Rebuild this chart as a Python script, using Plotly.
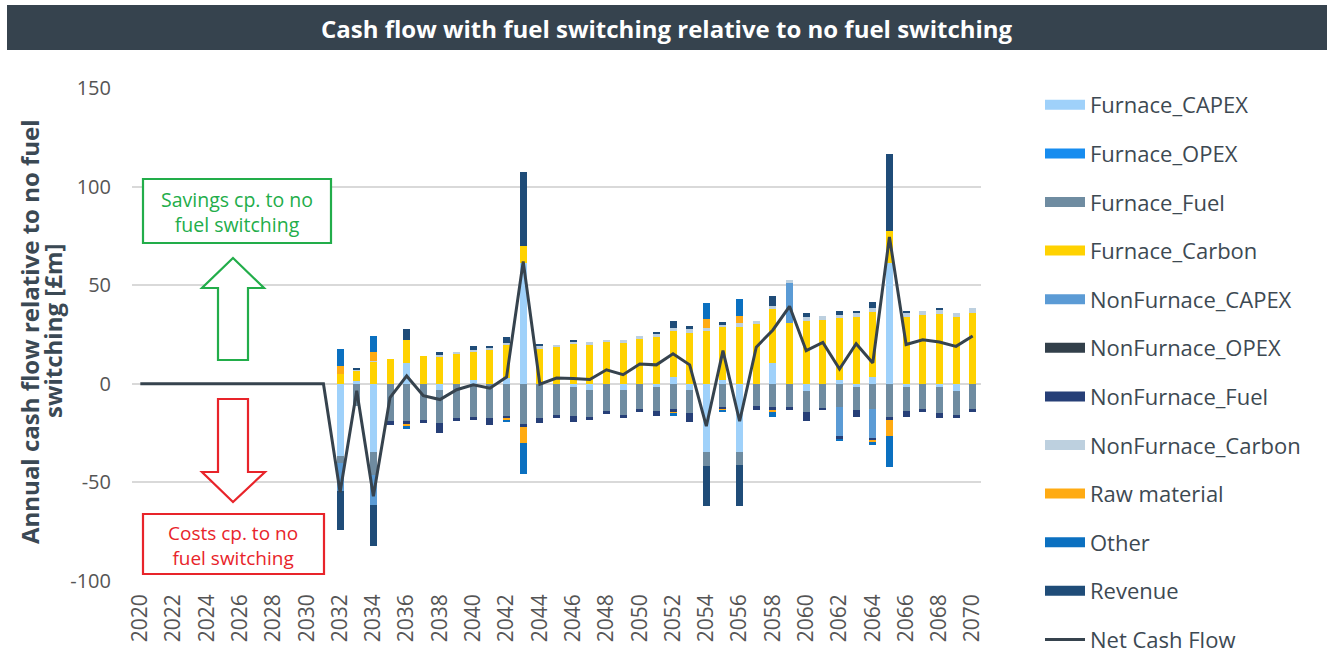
import plotly.graph_objects as go

# ---------------- data ----------------
bar_years = list(range(2032, 2071))
line_years = list(range(2020, 2071))

furnace_capex = [-36.5, 1.5, -34.8, 0, 10.8, 0, -3, 0, 1.7, 0,
                 2.9, 61.1, 0, 0, -1.4, -3, 0, -3, 0, -1.7,
                 3.4, -3, -34.8, 2, -34.8, 0, 10.5, 0, -3.4, 0,
                 1.7, -1.7, 3.4, 61.1, -1.7, 0, -1.4, -3.4, 0]
furnace_opex = [0] * 39
furnace_fuel = [-3.7, -11.5, -11.3, -18.8, -19.1, -18.2, -17, -17.4, -16.9, -17.4,
                -16.5, -20.3, -17.1, -15.7, -14.9, -13.9, -13.7, -13, -12.7, -12.3,
                -13, -11.8, -6.8, -11.8, -6.4, -11.5, -12, -11.8, -11.1, -12.3,
                -12, -11.5, -12.8, -16.9, -12.3, -12.8, -13.2, -12.3, -12.8]
furnace_carbon = [5, 5, 11.3, 12.5, 11.5, 13.9, 13.5, 15.5, 14.9, 17.2,
                  17.2, 8.8, 17.9, 18.9, 20.6, 19.8, 21.1, 20.9, 23, 23.6,
                  23.5, 26, 27, 26.7, 28.7, 30.4, 27.4, 30.7, 31.6, 32.4,
                  31.6, 34.1, 32.8, 16.6, 34.1, 35, 35.3, 34.1, 36.1]
nonfurnace_capex = [-14.3, 0, -15.2, 0, 0, 0, 0, 0, 0, 0,
                    0, 0, 0, 0, 0, 0, 0, 0, 0, 0,
                    0, 0, 0, 0, 0, 0, 0, 20.3, 0, 0,
                    -14.4, 0, -14.7, 0, 0, 0, 0, 0, 0]
nonfurnace_opex = [0] * 39
nonfurnace_fuel = [0, 0, 0, -2, -1.3, -1.7, -4.7, -1.4, -1.4, -3.4,
                   -1.2, -1.7, -2.9, -1.4, -3, -1.7, -1.5, -1.4, -1.5, -2.5,
                   -1.3, -4.7, 0, -1, 0, -1.7, -1.7, -1.7, -4.6, -1.2,
                   -2, -3.4, -1.4, -1.7, -2.9, -1.7, -2.9, -1.4, -1.4]
nonfurnace_carbon = [0, 0.7, 0.5, 0, 0, 0, 1.5, 0.7, 0.7, 1,
                     0.8, 0, 1.7, 1, 0.8, 1.2, 1.2, 1.2, 1, 1.7,
                     1.4, 1.7, 1.5, 1.2, 2, 1.2, 1.7, 1.7, 2.5, 2,
                     1.7, 2, 2.2, 0, 2, 1.9, 2.2, 2, 2.2]
raw_material = [4, 0, 4.4, 0, -0.8, 0, 0, 0, 0, 0,
                -0.6, -7.8, 0, 0, 0, 0, 0, 0, 0, 0,
                -0.6, 0, 4.2, -0.7, 3.9, 0, -0.8, 0, 0, 0,
                0, 0, -0.7, -7.8, 0, 0, 0, 0, 0]
other = [8.5, 0, 8.1, 0, -1.5, 0, 0, 0, 0, 0,
         -1.2, -15.9, 0, 0, 0, 0, 0, 0, 0, 0,
         -1.4, 0, 8.1, -1, 8.3, 0, -2.4, 0, 0, 0,
         -0.8, 0, -1.2, -15.9, 0, 0, 0, 0, 0]
revenue = [-19.8, 0.8, -21.1, 0, 5.4, 0, 1, 0, 2, 0.5,
           2.7, 37.7, 0.7, 0, 0.5, 0, 0, 0, 0, 0.8,
           3.4, 1.4, -20.6, 1.4, -20.6, 0, 4.7, 0, 1.7, 0,
           1.7, 0.7, 2.9, 38.9, 0.7, 0, 1, 0, 0]
net_cash_flow = [0, 0, 0, 0, 0, 0, 0, 0, 0, 0, 0, 0,
                 -55, -3.5, -57, -7, 4, -6, -8, -3, -0.5, -2.2,
                 3.4, 62, -0.2, 2.9, 2.7, 2.2, 7.1, 4.6, 10, 9.6,
                 15.2, 9.6, -21.5, 16.8, -19, 18.6, 27.3, 39.3, 16.8, 21,
                 7.5, 20.3, 10.6, 74.5, 19.9, 22.3, 21.2, 19, 24.2]

y_tick_values = [-100, -50, 0, 50, 100, 150]
y_tick_labels = ["-100", "-50", "0", "50", "100", "150"]

series = [
    ("Furnace_CAPEX", furnace_capex, "#9fd1fa"),
    ("Furnace_OPEX", furnace_opex, "#168cef"),
    ("Furnace_Fuel", furnace_fuel, "#6f8ca1"),
    ("Furnace_Carbon", furnace_carbon, "#ffd200"),
    ("NonFurnace_CAPEX", nonfurnace_capex, "#5b9bd5"),
    ("NonFurnace_OPEX", nonfurnace_opex, "#323f4a"),
    ("NonFurnace_Fuel", nonfurnace_fuel, "#263f77"),
    ("NonFurnace_Carbon", nonfurnace_carbon, "#bdd0df"),
    ("Raw material", raw_material, "#ffab13"),
    ("Other", other, "#0b70c0"),
    ("Revenue", revenue, "#1f4c78"),
]
line_color = "#36434e"

# ---------------- layout geometry ----------------
W, H = 1328, 655
L, R, T, B = 132, 981, 88, 581


def px(x):
    return (x - L) / (R - L)


def py(y):
    return (B - y) / (B - T)


FONT = "Open Sans"
fig = go.Figure()

for name, vals, col in series:
    fig.add_trace(go.Bar(x=bar_years, y=vals, name=name, marker_color=col,
                         marker_line_width=0, width=0.42, showlegend=False))

fig.add_trace(go.Scatter(x=line_years, y=net_cash_flow, mode="lines",
                         line=dict(color=line_color, width=3), showlegend=False))

# legend proxies
for i, (name, vals, col) in enumerate(series):
    fig.add_trace(go.Scatter(x=[None], y=[None], mode="lines", name=name,
                             line=dict(color=col, width=10), legendgroup=f"g{i}"))
fig.add_trace(go.Scatter(x=[None], y=[None], mode="lines", name="Net Cash Flow",
                         line=dict(color=line_color, width=3), legendgroup="gnet"))

shapes = []
annotations = []

# title bar
shapes.append(dict(type="rect", xref="paper", yref="paper", x0=px(7), x1=px(1327),
                   y0=py(50), y1=py(5), fillcolor="#36434e", line=dict(width=0), layer="below"))
annotations.append(dict(xref="paper", yref="paper", x=px(667), y=py(28), showarrow=False,
                        text="<b>Cash flow with fuel switching relative to no fuel switching</b>",
                        font=dict(family=FONT, size=24, color="white"),
                        xanchor="center", yanchor="middle"))

# y axis title (two lines)
ytitle_font = dict(family=FONT, size=24, color="#3b4954")
annotations.append(dict(xref="paper", yref="paper", x=px(29), y=py(332), showarrow=False,
                        textangle=-90, text="<b>Annual cash flow relative to no fuel</b>",
                        font=ytitle_font, xanchor="center", yanchor="middle"))
annotations.append(dict(xref="paper", yref="paper", x=px(52), y=py(331), showarrow=False,
                        textangle=-90, text="<b>switching [£m]</b>",
                        font=ytitle_font, xanchor="center", yanchor="middle"))

green = "#22ad4a"
red = "#e8242a"

# savings box
shapes.append(dict(type="rect", xref="paper", yref="paper", x0=px(143), x1=px(331),
                   y0=py(243), y1=py(179), line=dict(color=green, width=2.2), fillcolor="white"))
annotations.append(dict(xref="paper", yref="paper", x=px(237), y=py(212), showarrow=False,
                        text="Savings cp. to no<br>fuel switching",
                        font=dict(family=FONT, size=19.5, color=green), align="center",
                        xanchor="center", yanchor="middle"))
# costs box
shapes.append(dict(type="rect", xref="paper", yref="paper", x0=px(143), x1=px(324),
                   y0=py(574), y1=py(514), line=dict(color=red, width=2.2), fillcolor="white"))
annotations.append(dict(xref="paper", yref="paper", x=px(233), y=py(545), showarrow=False,
                        text="Costs cp. to no<br>fuel switching",
                        font=dict(family=FONT, size=19, color=red), align="center",
                        xanchor="center", yanchor="middle"))


def poly(points):
    return "M " + " L ".join(f"{px(a):.5f},{py(b):.5f}" for a, b in points) + " Z"


up_arrow = [(233, 258), (264, 288), (248, 288), (248, 360), (218, 360), (218, 288), (202, 288)]
down_arrow = [(218, 399), (248, 399), (248, 472), (265, 472), (233, 502), (202, 472), (218, 472)]
shapes.append(dict(type="path", xref="paper", yref="paper", path=poly(up_arrow),
                   line=dict(color=green, width=2.2), fillcolor="white"))
shapes.append(dict(type="path", xref="paper", yref="paper", path=poly(down_arrow),
                   line=dict(color=red, width=2.2), fillcolor="white"))

fig.update_layout(
    width=W, height=H,
    margin=dict(l=L, r=W - R, t=T, b=H - B, autoexpand=False),
    paper_bgcolor="white", plot_bgcolor="white",
    barmode="relative", bargap=0,
    font=dict(family=FONT, color="#404a52"),
    shapes=shapes, annotations=annotations,
    legend=dict(xref="container", yref="container", x=1040 / W, y=1 - 84 / H,
                xanchor="left", yanchor="top", traceorder="grouped",
                tracegroupgap=17, font=dict(family=FONT, size=22, color="#3d4952"),
                bgcolor="rgba(0,0,0,0)", itemwidth=40, maxheight=1),
    xaxis=dict(range=[2019.5, 2070.5], tickmode="linear", tick0=2020, dtick=2,
               tickangle=-90, showgrid=False, showline=False, zeroline=False,
               ticks="", tickfont=dict(family=FONT, size=21, color="#555555"),
               ticklabelstandoff=8),
    yaxis=dict(range=[-100, 150], tickmode="array", tickvals=y_tick_values,
               ticktext=y_tick_labels,
               showgrid=True, gridcolor="#d9d9d9", gridwidth=1.5,
               zeroline=True, zerolinecolor="#d9d9d9", zerolinewidth=1.5,
               showline=False, ticks="",
               tickfont=dict(family=FONT, size=20, color="#555555"),
               ticklabelstandoff=20),
)

fig.write_html("out.html", config={"displayModeBar": False},
               post_script="document.body.style.margin='0';")
